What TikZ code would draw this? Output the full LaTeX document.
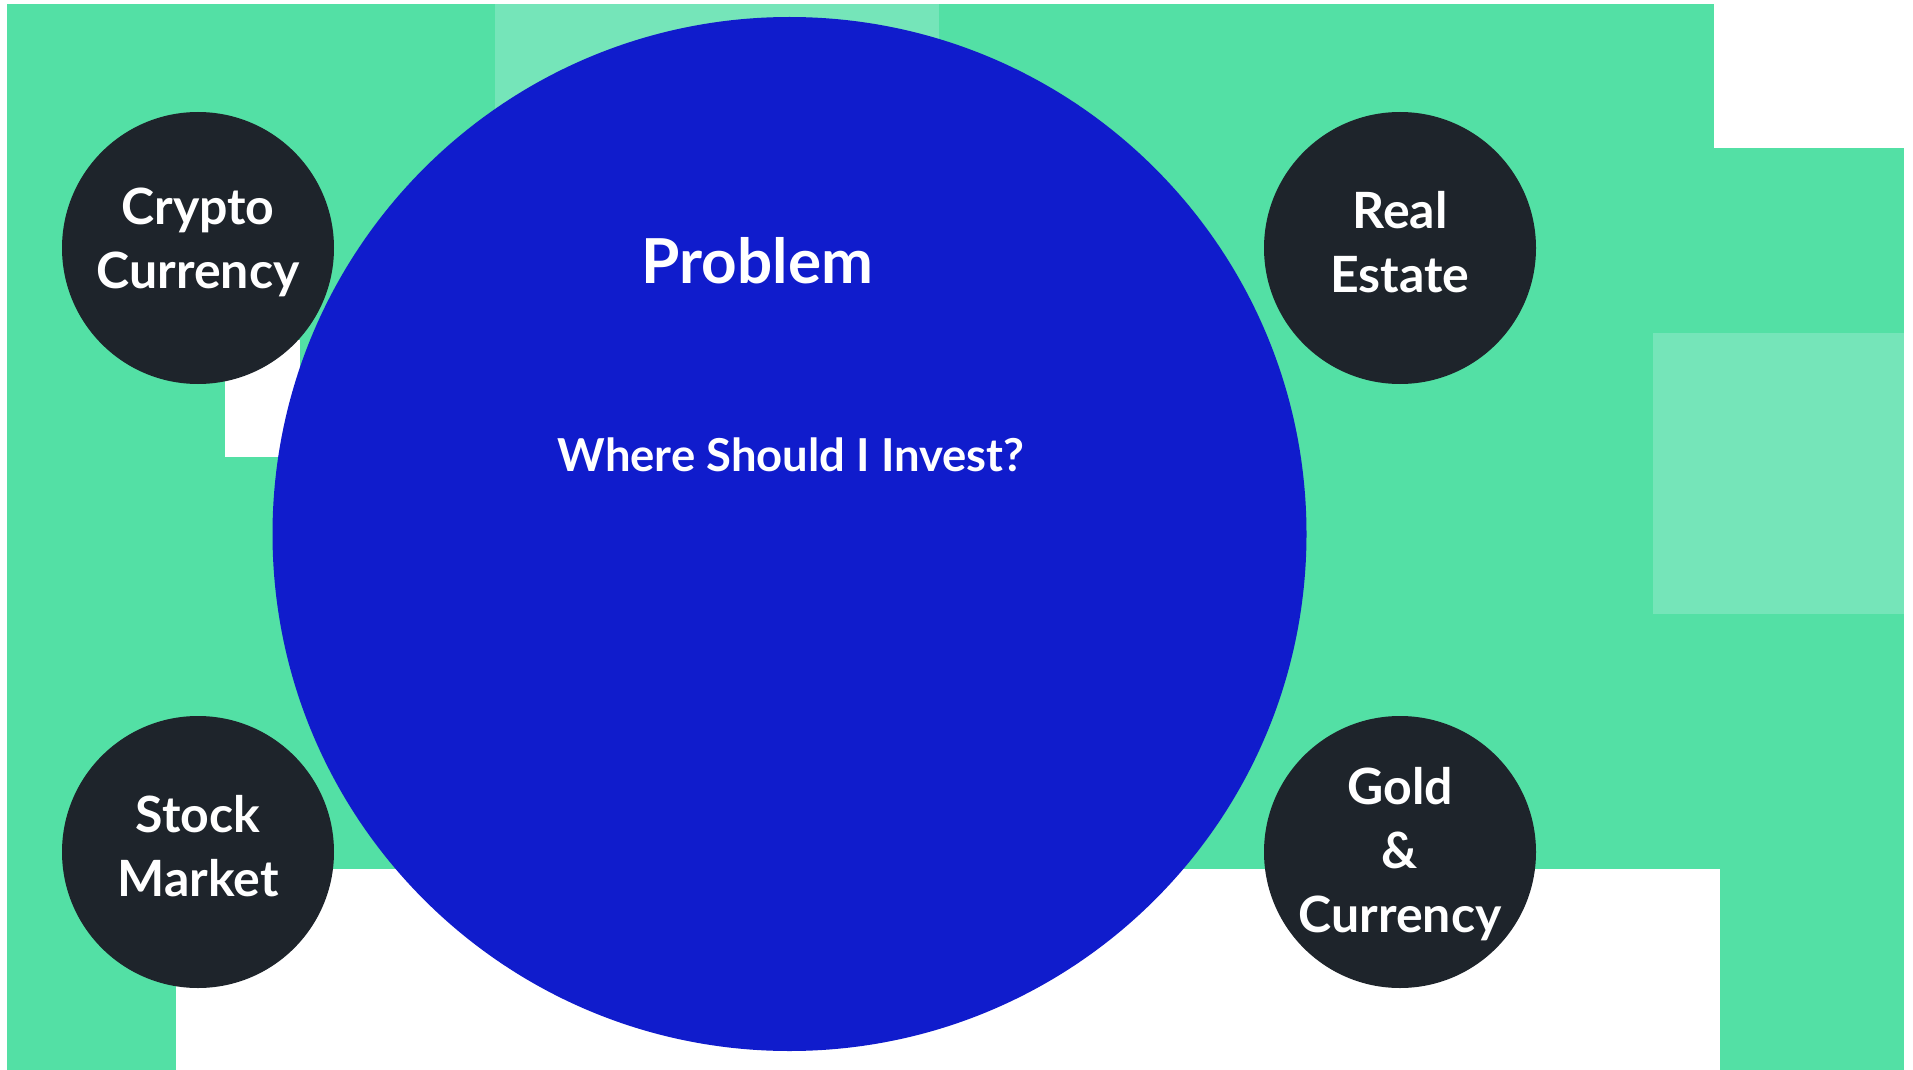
\documentclass[tikz,border=0pt]{standalone}
\usepackage{fontspec}
\setmainfont{Lato}
\definecolor{bggreen}{HTML}{53E0A5}
\definecolor{lightgreen}{HTML}{75E5B9}
\definecolor{bigblue}{HTML}{101CCC}
\definecolor{darkdot}{HTML}{1E242B}
\tikzset{
  topic/.style={circle, fill=darkdot, minimum size=136pt, inner sep=0pt},
  topiclabel/.style={text=white, inner sep=0pt, align=center,
    font=\fontsize{25pt}{32pt}\selectfont\bfseries},
  bigdisc/.style={circle, fill=bigblue, minimum size=517pt, inner sep=0pt},
  titletext/.style={anchor=base, text=white, inner sep=0pt, font=\fontsize{31pt}{36pt}\selectfont\bfseries},
  questiontext/.style={anchor=base, text=white, inner sep=0pt, font=\fontsize{22.7pt}{28pt}\selectfont\bfseries}
}
\begin{document}
\begin{tikzpicture}[x=0.5pt,y=-0.5pt]
\useasboundingbox (0,0) rectangle (1913,1070);
\fill[white] (0,0) rectangle (1913,1070);
% green background
\fill[bggreen] (7,4) rectangle (1904,1070);
% white cut-outs
\fill[white] (1714,0) rectangle (1913,148);
\fill[white] (176,869) rectangle (1720,1070);
\fill[white] (225,340) rectangle (300,457);
% light green panels
\fill[lightgreen] (495,4) rectangle (939,140);
\fill[lightgreen] (1653,333) rectangle (1904,614);
% central disc
\node[bigdisc] (problem) at (789.5,534) {};
\node[titletext] (title) at (757.5,283) {Problem};
\node[questiontext] (question) at (791,471) {Where Should I Invest?};
% topics
\node[topic] (crypto) at (198,248) {};
\node[topic] (realestate) at (1400,248) {};
\node[topic] (stock) at (198,852) {};
\node[topic] (gold) at (1400,852) {};
\node[topiclabel] (cryptotext) at ([yshift=3pt]crypto.center) {Crypto\\Currency};
\node[topiclabel] (realestatetext) at ([yshift=3pt]realestate.center) {Real\\Estate};
\node[topiclabel] (stocktext) at ([yshift=3pt]stock.center) {Stock\\Market};
\node[topiclabel] (goldtext) at ([yshift=-1pt]gold.center) {Gold\\\&\\Currency};
\end{tikzpicture}
\end{document}
